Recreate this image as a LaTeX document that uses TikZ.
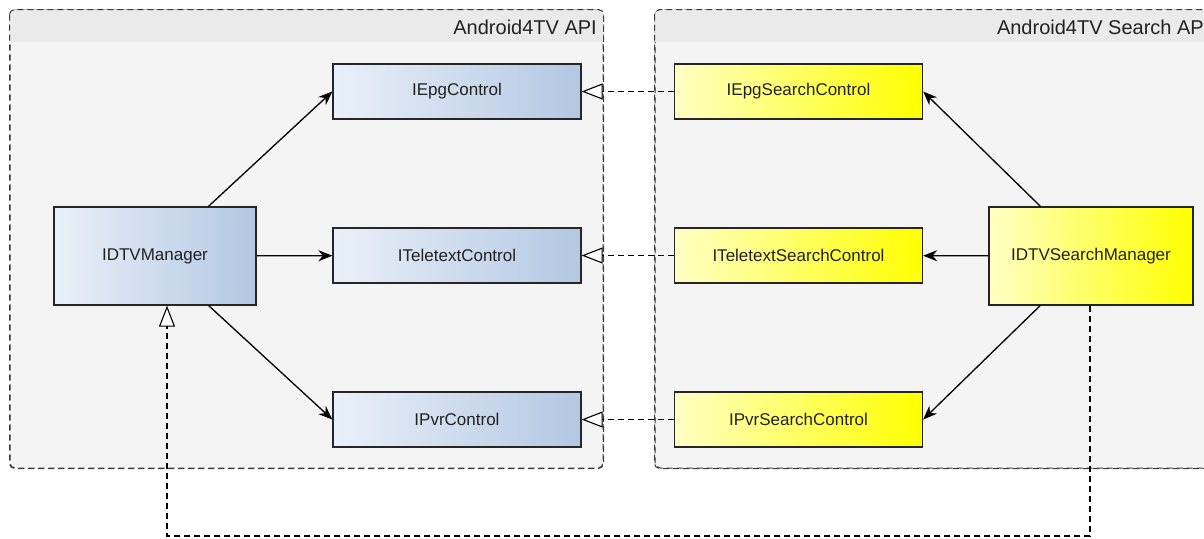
\documentclass[tikz,border=0pt]{standalone}
\usepackage{fontspec}
\setmainfont{Liberation Sans}
\usetikzlibrary{arrows.meta, calc}
\definecolor{pkgfill}{HTML}{F4F4F4}
\definecolor{hdrfill}{HTML}{EAEAEA}
\definecolor{pkgline}{HTML}{3A3A3A}
\definecolor{ifleft}{HTML}{E9F0F9}
\definecolor{ifright}{HTML}{B3C7E3}
\definecolor{ysleft}{HTML}{FFFFC4}
\definecolor{ysright}{HTML}{FFFF00}
\definecolor{labeltext}{HTML}{222222}

\begin{document}
\begin{tikzpicture}[x=1pt, y=-1pt,
		pkg/.style={draw=pkgline, dashed, dash pattern=on 6pt off 4pt, fill=pkgfill, rounded corners=5pt, inner sep=0pt, line width=1pt},
		pkgtitle/.style={text=labeltext, font=\fontsize{20}{24}\selectfont, anchor=east, inner sep=0pt},
		iface/.style={draw=black!85, left color=ifleft, right color=ifright, text=labeltext, minimum width=248pt, minimum height=55pt, line width=1.3pt, font=\fontsize{17}{20}\selectfont},
		search/.style={iface, left color=ysleft, right color=ysright},
		assoc/.style={-{Stealth[length=14pt, width=11pt]}, line width=1.3pt},
		realize/.style={-{Triangle[open, length=21pt, width=16pt, fill=white]}, line width=1.1pt, dash pattern=on 6pt off 4pt}
	]
	\clip (0,0) rectangle (1204,538);
	\fill[white] (0,0) rectangle (1204,538);

	% packages
	\node[pkg, minimum width=593pt, minimum height=458pt] (api) at (306.5,239) {};
	\node[pkg, minimum width=570pt, minimum height=458pt] (sapi) at (940,239) {};
	\fill[hdrfill, rounded corners=5pt] ($(api.north west)+(0.5,0.5)$) rectangle ($(api.north east)+(-0.5,32)$);
	\fill[hdrfill] ($(api.north west)+(0.5,20)$) rectangle ($(api.north east)+(-0.5,32)$);
	\fill[hdrfill, rounded corners=5pt] ($(sapi.north west)+(0.5,0.5)$) rectangle ($(sapi.north east)+(-0.5,32)$);
	\fill[hdrfill] ($(sapi.north west)+(0.5,20)$) rectangle ($(sapi.north east)+(-0.5,32)$);
	\draw[pkgline, dash pattern=on 6pt off 4pt, line width=1pt, rounded corners=5pt] (api.north west) rectangle (api.south east);
	\draw[pkgline, dash pattern=on 6pt off 4pt, line width=1pt, rounded corners=5pt] (sapi.north west) rectangle (sapi.south east);
	\node[pkgtitle] (apititle) at (597,27) {Android4TV API};
	\node[pkgtitle] (sapititle) at (1204,27) {Android4TV Search AP};

	% interfaces
	\node[iface, minimum width=202pt, minimum height=98pt] (mgr) at (155,256) {IDTVManager};
	\node[iface] (epg) at (457,91.5) {IEpgControl};
	\node[iface] (ttx) at (457,255.5) {ITeletextControl};
	\node[iface] (pvr) at (457,419.5) {IPvrControl};

	\node[search, minimum width=204pt, minimum height=98pt] (smgr) at (1091,256) {IDTVSearchManager};
	\node[search] (sepg) at (798.5,91.5) {IEpgSearchControl};
	\node[search] (sttx) at (798.5,255.5) {ITeletextSearchControl};
	\node[search] (spvr) at (798.5,419.5) {IPvrSearchControl};

	\draw[assoc] (mgr) -- (epg.west);
	\draw[assoc] (mgr) -- (ttx);
	\draw[assoc] (mgr) -- (pvr.west);
	\draw[assoc] (smgr) -- (sepg.east);
	\draw[assoc] (smgr) -- (sttx);
	\draw[assoc] (smgr) -- (spvr.east);

	\draw[realize] (sepg) -- (epg);
	\draw[realize] (sttx) -- (ttx);
	\draw[realize] (spvr) -- (pvr);

	\coordinate (bend) at (1090,536);
	\draw[realize] ($(smgr.south)+(-1,0)$) -- (bend) -| ($(mgr.south)+(12,0)$);
\end{tikzpicture}
\end{document}
